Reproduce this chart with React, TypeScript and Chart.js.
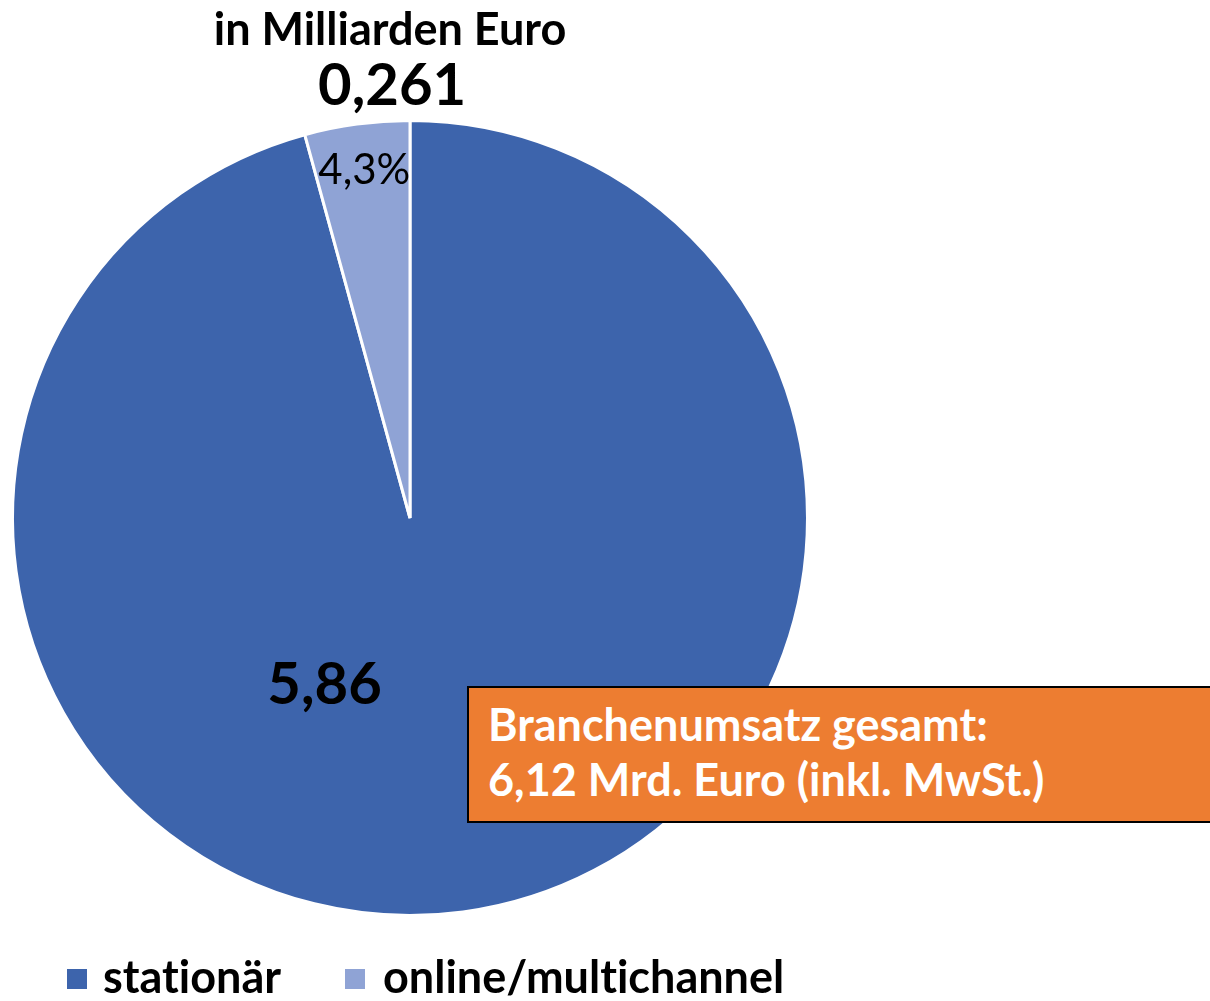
import React, { useEffect, useRef } from "react";
import { Chart, registerables } from "chart.js";

Chart.register(...registerables);

const categories = ["stationär", "online/multichannel"];
const values = [5.86, 0.261];
const colors = ["#3D64AC", "#8FA3D5"];
const titleText = "in Milliarden Euro";
const totalLines = ["Branchenumsatz gesamt:", "6,12 Mrd. Euro (inkl. MwSt.)"];

const FONT = "Lato, 'Open Sans', sans-serif";

const fmt = (v: number) => v.toLocaleString("de-DE");

const labelPlugin = {
  id: "sliceLabels",
  afterDatasetsDraw(chart: any) {
    const meta = chart.getDatasetMeta(0);
    const ctx = chart.ctx;
    const total = values.reduce((a, b) => a + b, 0);
    const a0 = meta.data[0];
    const a1 = meta.data[1];
    const R = a0.outerRadius;
    ctx.save();
    ctx.fillStyle = "#000";
    ctx.textAlign = "center";
    ctx.textBaseline = "alphabetic";
    ctx.font = `bold 58px ${FONT}`;
    ctx.fillText(fmt(values[0]), a0.x - 0.215 * R, a0.y + 0.468 * R);
    ctx.fillText(fmt(values[1]), a1.x - 0.045 * R, a1.y - 1.038 * R);
    const mid = (a1.startAngle + a1.endAngle) / 2;
    const pct = ((values[1] / total) * 100).toFixed(1).replace(".", ",") + "%";
    ctx.font = `42px ${FONT}`;
    ctx.fillText(pct, a1.x + Math.cos(mid) * 0.88 * R + 1, a1.y + Math.sin(mid) * 0.88 * R + 13);
    ctx.restore();
  },
};

export default function App() {
  const ref = useRef<HTMLCanvasElement | null>(null);
  useEffect(() => {
    if (!ref.current) return;
    const chart = new Chart(ref.current, {
      type: "pie",
      data: {
        labels: categories,
        datasets: [
          {
            data: values,
            backgroundColor: colors,
            borderColor: "#ffffff",
            borderWidth: 3,
          },
        ],
      },
      options: {
        responsive: false,
        animation: false,
        layout: { padding: { left: 11, top: 119, right: 401, bottom: 84 } },
        plugins: {
          legend: { display: false },
          title: { display: false },
          tooltip: { enabled: false },
        },
      },
      plugins: [labelPlugin],
    });
    return () => chart.destroy();
  }, []);

  return (
    <div
      style={{
        position: "fixed",
        left: 0,
        top: 0,
        width: 1210,
        height: 1001,
        overflow: "hidden",
        background: "#fff",
        fontFamily: FONT,
        fontVariantLigatures: "none",
      }}
    >
      <canvas ref={ref} width={1210} height={1001} style={{ position: "absolute", left: 0, top: 0 }} />
      <div
        style={{
          position: "absolute",
          left: 0,
          top: 0.6,
          width: 780,
          textAlign: "center",
          fontWeight: "bold",
          fontSize: 45,
          lineHeight: "54px",
          color: "#000",
          whiteSpace: "nowrap",
        }}
      >
        {titleText}
      </div>
      <div
        style={{
          position: "absolute",
          left: 467,
          top: 686,
          width: 780,
          height: 137,
          boxSizing: "border-box",
          border: "2px solid #000",
          background: "#ED7D31",
          color: "#fff",
          fontWeight: "bold",
          fontSize: 45,
          lineHeight: "55px",
          paddingTop: 9.1,
          paddingLeft: 19,
          whiteSpace: "nowrap",
        }}
      >
        {totalLines.map((t, i) => (
          <div key={i}>{t}</div>
        ))}
      </div>
      {categories.map((c, i) => (
        <React.Fragment key={c}>
          <div
            style={{
              position: "absolute",
              left: i === 0 ? 67 : 345,
              top: 969,
              width: 20,
              height: 20,
              background: colors[i],
            }}
          />
          <div
            style={{
              position: "absolute",
              left: i === 0 ? 103 : 383,
              top: 993 - 0.987 * 45,
              fontWeight: "bold",
              fontSize: 45,
              lineHeight: "54px",
              color: "#000",
              whiteSpace: "nowrap",
            }}
          >
            {c}
          </div>
        </React.Fragment>
      ))}
    </div>
  );
}
